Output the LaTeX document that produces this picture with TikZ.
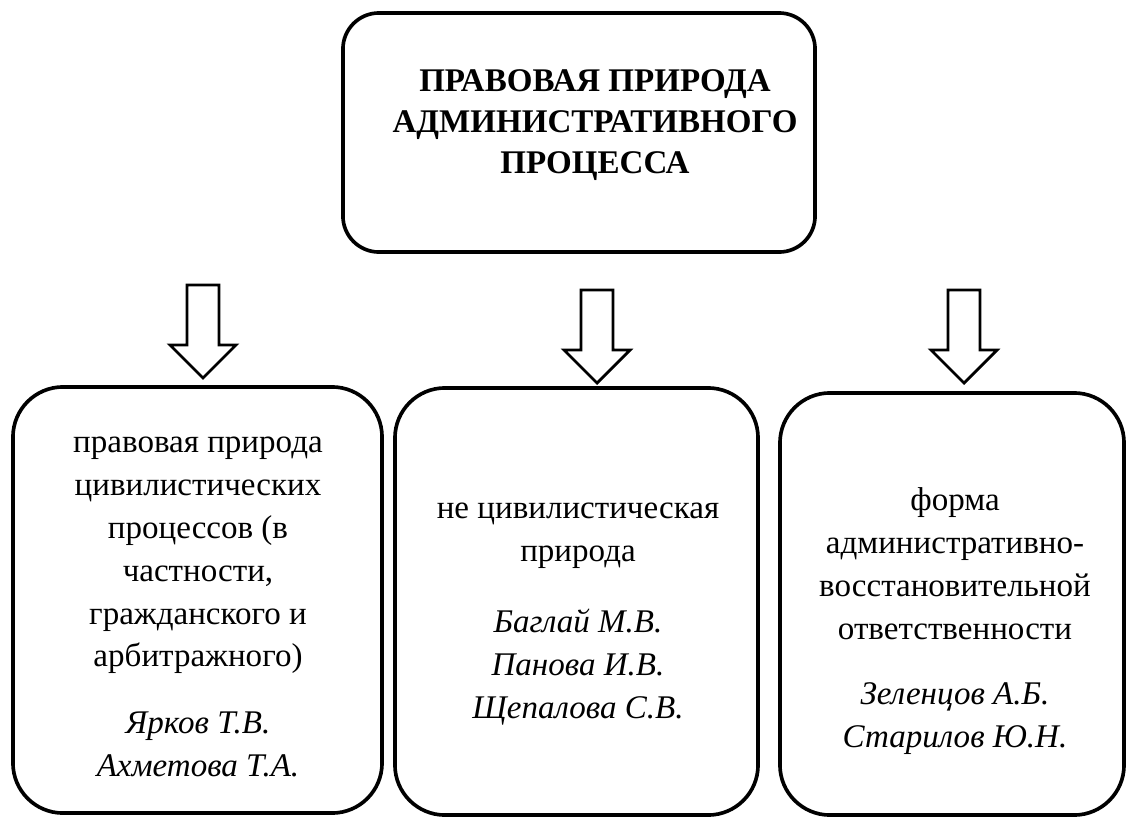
\documentclass[tikz,border=0pt]{standalone}
\usepackage{fontspec}
\setmainfont{Liberation Serif}

\tikzset{
  box/.style={draw, line width=2.6pt, rounded corners=1.25cm, inner sep=0pt},
  topbox/.style={box, rounded corners=0.9cm},
  boxtext/.style={align=center, inner sep=0pt, font=\fontsize{23.5}{30.5}\selectfont},
  headtext/.style={boxtext, font=\fontsize{23.5}{29}\selectfont\bfseries},
  blockarrow/.style={draw, line width=2pt, fill=white}
}

\begin{document}
\begin{tikzpicture}[x=0.025cm, y=-0.025cm]
  \useasboundingbox (0,0) rectangle (1126,818);

  \node[topbox, minimum width=11.8cm, minimum height=5.975cm] (root) at (579,132.5) {};
  \node[headtext] (roottext) at (595,125) {ПРАВОВАЯ ПРИРОДА\\АДМИНИСТРАТИВНОГО\\ПРОЦЕССА};

  \foreach \x/\y in {203/285, 597/290, 964/290}{
    \draw[blockarrow, shift={(\x,\y)}] (-16,0) -- (16,0) -- (16,60) -- (33,60)
      -- (0,93) -- (-33,60) -- (-16,60) -- cycle;
  }

  \node[box, minimum width=9.225cm, minimum height=10.65cm] (civil) at (197.5,600) {};
  \node[boxtext] (civiltext) at (198,607) {правовая природа\\цивилистических\\процессов (в\\частности,\\гражданского и\\арбитражного)\\[17pt]
    \textit{Ярков Т.В.}\\\textit{Ахметова Т.А.}};

  \node[box, minimum width=9.075cm, minimum height=10.675cm] (noncivil) at (576.5,601.5) {};
  \node[boxtext] (noncivtext) at (578,614) {не цивилистическая\\природа\\[20pt]
    \textit{Баглай М.В.}\\\textit{Панова И.В.}\\\textit{Щепалова С.В.}};

  \node[box, minimum width=8.6cm, minimum height=10.55cm] (restore) at (952,604) {};
  \node[boxtext] (restoretext) at (955,621) {форма\\административно-\\восстановительной\\ответственности\\[16pt]
    \textit{Зеленцов А.Б.}\\\textit{Старилов Ю.Н.}};
\end{tikzpicture}
\end{document}
